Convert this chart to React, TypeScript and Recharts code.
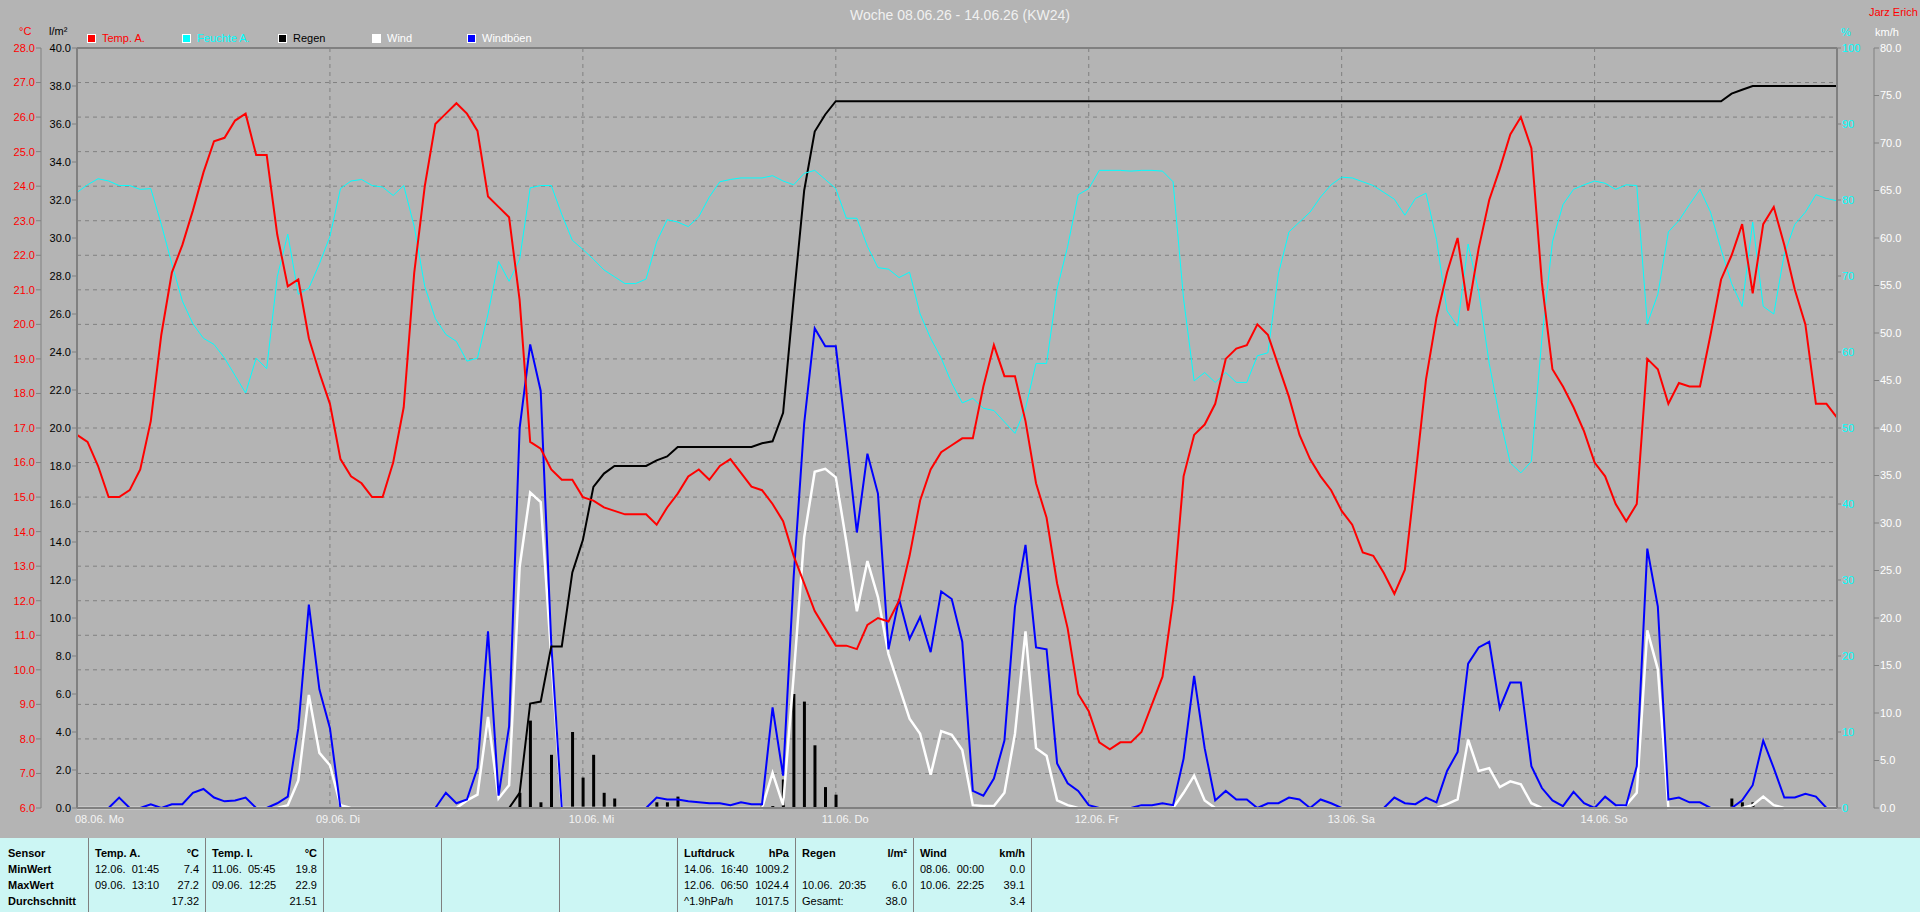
import { ComposedChart, Line, Bar, XAxis, YAxis, CartesianGrid, ReferenceLine } from 'recharts';

// hourly values, 08.06. 00:00 .. 14.06. 23:00
const tempA = [
  16.8, 16.6, 15.9, 15.0, 15.0, 15.2, 15.8, 17.2, 19.7, 21.5, 22.3, 23.3,
  24.4, 25.3, 25.4, 25.9, 26.1, 24.9, 24.9, 22.6, 21.1, 21.3, 19.6, 18.6,
  17.7, 16.1, 15.6, 15.4, 15.0, 15.0, 16.0, 17.6, 21.5, 24.0, 25.8, 26.1,
  26.4, 26.1, 25.6, 23.7, 23.4, 23.1, 20.7, 16.6, 16.4, 15.8, 15.5, 15.5,
  15.0, 14.9, 14.7, 14.6, 14.5, 14.5, 14.5, 14.2, 14.7, 15.1, 15.6, 15.8,
  15.5, 15.9, 16.1, 15.7, 15.3, 15.2, 14.8, 14.3, 13.3, 12.5, 11.7, 11.2,
  10.7, 10.7, 10.6, 11.3, 11.5, 11.4, 12.0, 13.3, 14.9, 15.8, 16.3, 16.5,
  16.7, 16.7, 18.2, 19.4, 18.5, 18.5, 17.2, 15.4, 14.4, 12.5, 11.2, 9.3,
  8.8, 7.9, 7.7, 7.9, 7.9, 8.2, 9.0, 9.8, 12.0, 15.6, 16.8, 17.1,
  17.7, 19.0, 19.3, 19.4, 20.0, 19.7, 18.8, 17.9, 16.8, 16.1, 15.6, 15.2,
  14.6, 14.2, 13.4, 13.3, 12.8, 12.2, 12.9, 15.6, 18.4, 20.2, 21.5, 22.5,
  20.4, 22.2, 23.6, 24.5, 25.5, 26.0, 25.1, 21.2, 18.7, 18.2, 17.6, 16.9,
  16.0, 15.6, 14.8, 14.3, 14.8, 19.0, 18.7, 17.7, 18.3, 18.2, 18.2, 19.7,
  21.3, 22.0, 22.9, 20.9, 22.9, 23.4, 22.3, 21.0, 20.0, 17.7, 17.7, 17.3,
];

const feuchteA = [
  81.0, 82.0, 82.8, 82.5, 81.9, 81.9, 81.4, 81.5, 76.8, 71.6, 66.7, 63.7,
  61.8, 61.0, 59.2, 56.9, 54.6, 59.2, 57.8, 69.9, 75.5, 67.6, 68.4, 71.6,
  75.2, 81.5, 82.5, 82.7, 81.9, 81.7, 80.6, 81.9, 76.5, 68.6, 64.4, 62.3,
  61.4, 58.8, 59.2, 65.0, 71.9, 69.3, 72.2, 81.6, 81.9, 81.9, 78.1, 74.7,
  73.5, 72.2, 70.8, 69.9, 69.0, 69.0, 69.6, 74.5, 77.4, 77.1, 76.5, 77.8,
  80.4, 82.4, 82.7, 82.9, 82.9, 82.9, 83.2, 82.5, 82.0, 83.5, 83.9, 82.7,
  81.5, 77.6, 77.6, 73.9, 71.1, 70.9, 69.8, 70.5, 65.0, 61.8, 59.2, 55.9,
  53.3, 53.9, 52.6, 52.3, 50.8, 49.3, 52.6, 58.5, 58.5, 68.3, 73.9, 80.7,
  81.5, 83.9, 83.9, 83.9, 83.8, 83.9, 83.9, 83.8, 82.4, 67.0, 56.2, 57.3,
  56.0, 57.3, 56.0, 56.0, 59.5, 59.9, 70.3, 75.8, 77.1, 78.4, 80.4, 82.0,
  83.0, 82.9, 82.4, 81.9, 81.0, 80.1, 78.0, 80.2, 80.9, 74.8, 65.4, 63.4,
  74.2, 68.0, 58.5, 51.3, 45.4, 44.1, 45.6, 61.8, 74.5, 79.4, 81.4, 82.0,
  82.5, 82.2, 81.4, 82.0, 81.9, 63.7, 67.6, 75.8, 77.3, 79.4, 81.4, 78.4,
  73.5, 69.0, 66.0, 77.1, 66.0, 65.0, 72.9, 76.8, 78.4, 80.7, 80.2, 79.9,
];

const regenSumme = [
  0, 0, 0, 0, 0, 0, 0, 0, 0, 0, 0, 0,
  0, 0, 0, 0, 0, 0, 0, 0, 0, 0, 0, 0,
  0, 0, 0, 0, 0, 0, 0, 0, 0, 0, 0, 0,
  0, 0, 0, 0, 0, 0, 0.8, 5.5, 5.6, 8.5, 8.5, 12.4,
  14.1, 16.9, 17.6, 18.0, 18.0, 18.0, 18.0, 18.3, 18.5, 19.0, 19.0, 19.0,
  19.0, 19.0, 19.0, 19.0, 19.0, 19.2, 19.3, 20.8, 26.8, 32.5, 35.6, 36.5,
  37.2, 37.2, 37.2, 37.2, 37.2, 37.2, 37.2, 37.2, 37.2, 37.2, 37.2, 37.2,
  37.2, 37.2, 37.2, 37.2, 37.2, 37.2, 37.2, 37.2, 37.2, 37.2, 37.2, 37.2,
  37.2, 37.2, 37.2, 37.2, 37.2, 37.2, 37.2, 37.2, 37.2, 37.2, 37.2, 37.2,
  37.2, 37.2, 37.2, 37.2, 37.2, 37.2, 37.2, 37.2, 37.2, 37.2, 37.2, 37.2,
  37.2, 37.2, 37.2, 37.2, 37.2, 37.2, 37.2, 37.2, 37.2, 37.2, 37.2, 37.2,
  37.2, 37.2, 37.2, 37.2, 37.2, 37.2, 37.2, 37.2, 37.2, 37.2, 37.2, 37.2,
  37.2, 37.2, 37.2, 37.2, 37.2, 37.2, 37.2, 37.2, 37.2, 37.2, 37.2, 37.2,
  37.2, 37.6, 37.8, 38.0, 38.0, 38.0, 38.0, 38.0, 38.0, 38.0, 38.0, 38.0,
];

const regenStunde = [
  0, 0, 0, 0, 0, 0, 0, 0, 0, 0, 0, 0,
  0, 0, 0, 0, 0, 0, 0, 0, 0, 0, 0, 0,
  0, 0, 0, 0, 0, 0, 0, 0, 0, 0, 0, 0,
  0, 0, 0, 0, 0, 0, 0.8, 4.6, 0.3, 2.8, 0, 4.0,
  1.6, 2.8, 0.8, 0.5, 0, 0, 0, 0.3, 0.3, 0.6, 0, 0,
  0, 0, 0, 0, 0, 0.2, 0.1, 1.5, 6.0, 5.6, 3.3, 1.1,
  0.7, 0, 0, 0, 0, 0, 0, 0, 0, 0, 0, 0,
  0, 0, 0, 0, 0, 0, 0, 0, 0, 0, 0, 0,
  0, 0, 0, 0, 0, 0, 0, 0, 0, 0, 0, 0,
  0, 0, 0, 0, 0, 0, 0, 0, 0, 0, 0, 0,
  0, 0, 0, 0, 0, 0, 0, 0, 0, 0, 0, 0,
  0, 0, 0, 0, 0, 0, 0, 0, 0, 0, 0, 0,
  0, 0, 0, 0, 0, 0, 0, 0, 0, 0, 0, 0,
  0, 0.5, 0.3, 0.3, 0, 0, 0, 0, 0, 0, 0, 0,
];

const wind = [
  0, 0, 0, 0, 0, 0, 0, 0, 0, 0, 0, 0,
  0, 0, 0, 0, 0, 0, 0, 0, 0.3, 2.9, 11.9, 5.8,
  4.5, 0.3, 0, 0, 0, 0, 0, 0, 0, 0, 0, 0,
  0, 0.8, 1.4, 9.6, 1.0, 2.4, 25.4, 33.2, 32.2, 15.9, 0, 0,
  0, 0, 0, 0, 0, 0, 0, 0, 0, 0, 0, 0,
  0, 0, 0, 0, 0, 0, 3.7, 0.3, 13.9, 28.5, 35.4, 35.7,
  34.8, 28.0, 20.7, 26.0, 22.2, 16.2, 12.8, 9.4, 7.8, 3.5, 8.1, 7.7,
  6.1, 0.3, 0.2, 0.2, 1.6, 7.8, 18.6, 6.3, 5.5, 0.8, 0.3, 0,
  0, 0, 0, 0, 0, 0, 0, 0, 0, 1.6, 3.4, 0.8,
  0, 0, 0, 0, 0, 0, 0, 0, 0, 0, 0, 0,
  0, 0, 0, 0, 0, 0, 0, 0, 0, 0, 0.4, 0.9,
  7.2, 3.9, 4.2, 2.2, 2.8, 2.5, 0.5, 0, 0, 0, 0, 0,
  0, 0, 0, 0.3, 1.6, 18.7, 14.6, 0, 0, 0, 0, 0,
  0, 0, 0, 0.3, 1.2, 0.3, 0, 0, 0, 0, 0, 0,
];

const windboeen = [
  0, 0, 0, 0, 1.1, 0, 0, 0.4, 0, 0.4, 0.4, 1.6,
  2.0, 1.1, 0.7, 0.8, 1.1, 0, 0, 0.5, 1.2, 8.4, 21.4, 12.5,
  8.4, 0, 0, 0, 0, 0, 0, 0, 0, 0, 0, 1.6,
  0.5, 0.9, 4.2, 18.6, 1.3, 8.6, 40.0, 48.8, 43.9, 17.3, 0, 0,
  0, 0, 0, 0, 0, 0, 0, 1.1, 0.9, 0.9, 0.7, 0.6,
  0.5, 0.5, 0.3, 0.6, 0.4, 0.4, 10.6, 3.4, 24.3, 40.5, 50.5, 48.6,
  48.6, 39.0, 29.0, 37.3, 33.1, 16.7, 22.0, 17.8, 20.1, 16.4, 22.8, 22.0,
  17.5, 1.8, 1.3, 3.1, 7.1, 21.2, 27.7, 16.9, 16.7, 4.7, 2.6, 1.8,
  0.3, 0, 0, 0, 0, 0.3, 0.3, 0.5, 0.3, 5.2, 13.9, 6.3,
  0.8, 1.8, 0.9, 0.9, 0, 0.5, 0.5, 1.1, 0.9, 0, 0.9, 0.5,
  0, 0, 0, 0, 0, 1.1, 0.5, 0.4, 1.1, 0.6, 3.9, 5.9,
  15.2, 16.9, 17.5, 10.5, 13.2, 13.2, 4.4, 2.1, 0.8, 0.2, 1.7, 0.5,
  0, 1.2, 0.3, 0.3, 4.4, 27.3, 21.2, 0.9, 1.1, 0.6, 0.6, 0,
  0, 0, 0.8, 2.4, 7.1, 4.2, 1.1, 1.1, 1.5, 1.2, 0, 0,
];

const dayTicks = [0, 24, 48, 72, 96, 120, 144];
const dayLabels = ['08.06. Mo', '09.06. Di', '10.06. Mi', '11.06. Do', '12.06. Fr', '13.06. Sa', '14.06. So'];

const tempTicks = [6, 7, 8, 9, 10, 11, 12, 13, 14, 15, 16, 17, 18, 19, 20, 21, 22, 23, 24, 25, 26, 27, 28];
const rainTicks = [0, 2, 4, 6, 8, 10, 12, 14, 16, 18, 20, 22, 24, 26, 28, 30, 32, 34, 36, 38, 40];
const humTicks = [0, 10, 20, 30, 40, 50, 60, 70, 80, 90, 100];
const windTicks = [0, 5, 10, 15, 20, 25, 30, 35, 40, 45, 50, 55, 60, 65, 70, 75, 80];

const legendItems = [
  { name: 'Temp. A.', box: '#ff0000', text: '#ff0000', x: 87 },
  { name: 'Feuchte A.', box: '#00ffff', text: '#00ffff', x: 182 },
  { name: 'Regen', box: '#000000', text: '#000000', x: 278 },
  { name: 'Wind', box: '#ffffff', text: '#ffffff', x: 372 },
  { name: 'Windböen', box: '#0000ff', text: '#ffffff', x: 467 },
];

// statistics table: [left text, right text] per row
const tableCols = [
  { x: 88, w: 117, rows: [['Temp. A.', '°C'], ['12.06.  01:45', '7.4'], ['09.06.  13:10', '27.2'], ['', '17.32']] },
  { x: 205, w: 118, rows: [['Temp. I.', '°C'], ['11.06.  05:45', '19.8'], ['09.06.  12:25', '22.9'], ['', '21.51']] },
  { x: 323, w: 118, rows: [] },
  { x: 441, w: 118, rows: [] },
  { x: 559, w: 118, rows: [] },
  { x: 677, w: 118, rows: [['Luftdruck', 'hPa'], ['14.06.  16:40', '1009.2'], ['12.06.  06:50', '1024.4'], ['^1.9hPa/h', '1017.5']] },
  { x: 795, w: 118, rows: [['Regen', 'l/m²'], ['', ''], ['10.06.  20:35', '6.0'], ['Gesamt:', '38.0']] },
  { x: 913, w: 118, rows: [['Wind', 'km/h'], ['08.06.  00:00', '0.0'], ['10.06.  22:25', '39.1'], ['', '3.4']] },
];
const rowLabels = ['Sensor', 'MinWert', 'MaxWert', 'Durchschnitt'];

const data = tempA.map((t, i) => ({
  h: i,
  temp: t,
  hum: feuchteA[i],
  rainSum: regenSumme[i],
  rainH: regenStunde[i],
  wind: wind[i],
  gust: windboeen[i],
}));

const FONT = '"Liberation Sans", Arial, sans-serif';
const GRAY = '#808080';
const BG = '#b4b4b4';

function DayTick(props: any) {
  const { x, y, payload, index } = props;
  const first = index === 0;
  return (
    <text
      x={first ? x - 2 : x - 14}
      y={y}
      dy={7}
      textAnchor="start"
      fill="#f4f4f4"
      fontSize={11}
      fontFamily={FONT}
    >
      {dayLabels[dayTicks.indexOf(payload.value)]}
    </text>
  );
}

const abs = (x: number, y: number, color: string, extra: any = {}) => ({
  position: 'absolute' as const,
  left: x,
  top: y,
  color,
  fontSize: 11,
  fontFamily: FONT,
  whiteSpace: 'pre' as const,
  lineHeight: '13px',
  ...extra,
});

export default function App() {
  return (
    <div style={{ position: 'absolute', left: 0, top: 0, width: 1920, height: 912, background: BG, overflow: 'hidden' }}>
      <div style={abs(0, 7, '#f0f0f0', { width: 1920, textAlign: 'center', fontSize: 14, lineHeight: '16px' })}>
        Woche 08.06.26 - 14.06.26 (KW24)
      </div>
      <div style={abs(1869, 6, '#ff0000')}>Jarz Erich</div>
      <div style={abs(19, 25, '#ff0000')}>°C</div>
      <div style={abs(49, 25, '#000000')}>l/m²</div>
      <div style={abs(1841, 26, '#00ffff')}>%</div>
      <div style={abs(1875, 26, '#ffffff')}>km/h</div>

      {legendItems.map((it) => (
        <div key={it.name}>
          <div style={{ position: 'absolute', left: it.x, top: 34, width: 7, height: 7, background: it.box, border: '1px solid #ffffff' }} />
          <div style={abs(it.x + 15, 32, it.text)}>{it.name}</div>
        </div>
      ))}

      <div style={{ position: 'absolute', left: 0, top: 0 }}>
        <ComposedChart width={1920} height={838} data={data} margin={{ top: 48, right: 0, bottom: 0, left: 0 }}>
          <CartesianGrid
            yAxisId="temp"
            stroke={GRAY}
            strokeDasharray="4 4"
            horizontal
            vertical
          />
          <XAxis
            dataKey="h"
            type="number"
            domain={[0, 167]}
            ticks={dayTicks}
            interval={0}
            height={30}
            axisLine={{ stroke: GRAY, strokeWidth: 2 }}
            tickLine={false}
            tick={<DayTick />}
          />
          <YAxis
            yAxisId="rain"
            orientation="left"
            domain={[0, 40]}
            ticks={rainTicks}
            interval={0}
            width={36}
            axisLine={{ stroke: GRAY, strokeWidth: 2 }}
            tickLine={{ stroke: GRAY }}
            tickSize={5}
            tickMargin={1}
            tick={{ fill: '#000000', fontSize: 11, fontFamily: FONT }}
            tickFormatter={(v: number) => v.toFixed(1)}
          />
          <YAxis
            yAxisId="temp"
            orientation="left"
            domain={[6, 28]}
            ticks={tempTicks}
            interval={0}
            width={41}
            axisLine={{ stroke: GRAY, strokeWidth: 1 }}
            tickLine={{ stroke: GRAY }}
            tickSize={5}
            tickMargin={1}
            tick={{ fill: '#ff0000', fontSize: 11, fontFamily: FONT }}
            tickFormatter={(v: number) => v.toFixed(1)}
          />
          <YAxis
            yAxisId="hum"
            orientation="right"
            domain={[0, 100]}
            ticks={humTicks}
            interval={0}
            width={37}
            axisLine={{ stroke: GRAY, strokeWidth: 2 }}
            tickLine={{ stroke: GRAY }}
            tickSize={4}
            tickMargin={1}
            tick={{ fill: '#00ffff', fontSize: 11, fontFamily: FONT }}
          />
          <YAxis
            yAxisId="wind"
            orientation="right"
            domain={[0, 80]}
            ticks={windTicks}
            interval={0}
            width={46}
            axisLine={{ stroke: GRAY, strokeWidth: 1 }}
            tickLine={{ stroke: GRAY }}
            tickSize={5}
            tickMargin={1}
            tick={{ fill: '#ffffff', fontSize: 11, fontFamily: FONT }}
            tickFormatter={(v: number) => v.toFixed(1)}
          />
          <ReferenceLine yAxisId="rain" y={40} stroke={GRAY} strokeWidth={2} />
          <Bar yAxisId="rain" dataKey="rainH" fill="#000000" barSize={3} isAnimationActive={false} />
          <Line yAxisId="wind" dataKey="wind" type="linear" stroke="#ffffff" strokeWidth={2.5} dot={false} isAnimationActive={false} />
          <Line yAxisId="wind" dataKey="gust" type="linear" stroke="#0000ff" strokeWidth={2} dot={false} isAnimationActive={false} />
          <Line yAxisId="rain" dataKey="rainSum" type="linear" stroke="#000000" strokeWidth={2} dot={false} isAnimationActive={false} />
          <Line yAxisId="hum" dataKey="hum" type="linear" stroke="#00ffff" strokeWidth={1} dot={false} isAnimationActive={false} />
          <Line yAxisId="temp" dataKey="temp" type="linear" stroke="#ff0000" strokeWidth={2} dot={false} isAnimationActive={false} />
        </ComposedChart>
      </div>

      <div style={{ position: 'absolute', left: 0, top: 838, width: 1920, height: 74, background: '#ccf6f4' }}>
        {rowLabels.map((r, i) => (
          <div key={r} style={abs(8, 9 + i * 16, '#000000', { fontWeight: 'bold' })}>{r}</div>
        ))}
        {tableCols.map((c, ci) => (
          <div key={ci} style={{ position: 'absolute', left: c.x, top: 0, width: c.w, height: 74, borderLeft: `1px solid ${GRAY}` }}>
            {c.rows.map((row, ri) => (
              <div key={ri}>
                <div style={abs(6, 9 + ri * 16, '#000000', { fontWeight: ri === 0 ? 'bold' : 'normal' })}>{row[0]}</div>
                <div style={abs(0, 9 + ri * 16, '#000000', { width: c.w - 7, textAlign: 'right', fontWeight: ri === 0 ? 'bold' : 'normal' })}>{row[1]}</div>
              </div>
            ))}
          </div>
        ))}
        <div style={{ position: 'absolute', left: 1031, top: 0, width: 1, height: 74, background: GRAY }} />
      </div>
    </div>
  );
}
